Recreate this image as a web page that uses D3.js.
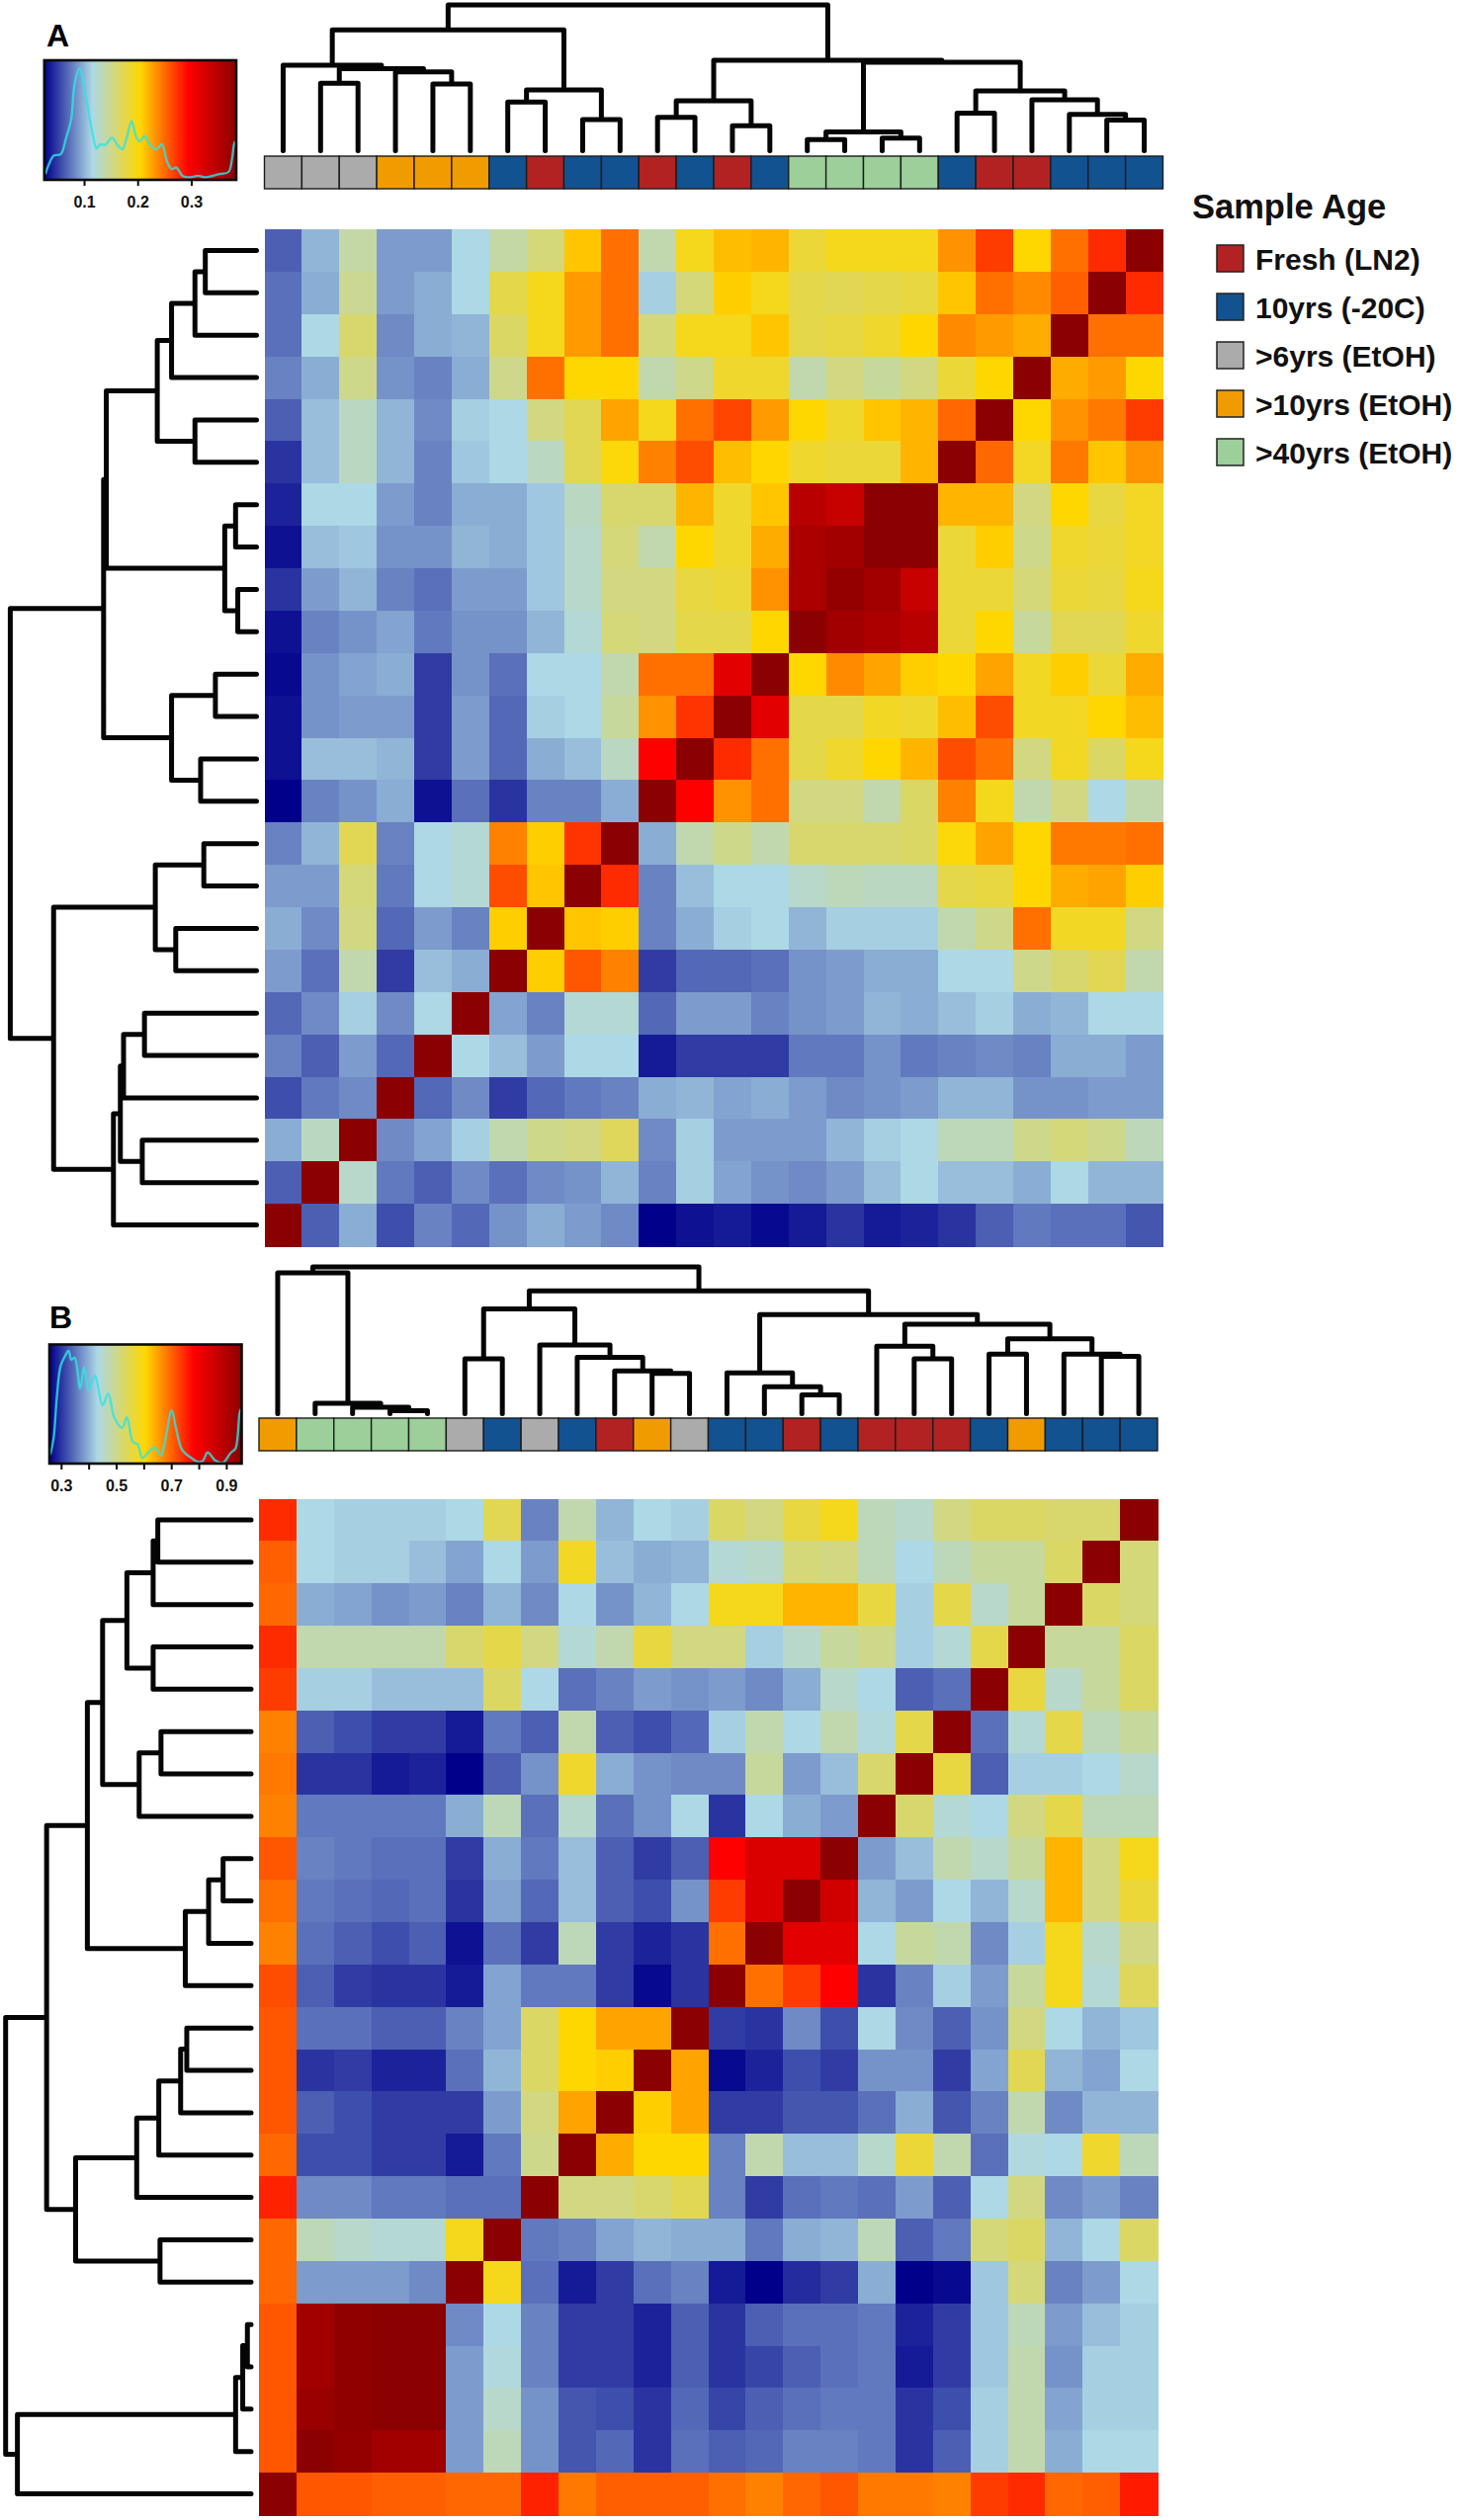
<!DOCTYPE html>
<html>
<head>
<meta charset="utf-8">
<script src="https://cdn.jsdelivr.net/npm/d3@7"></script>
<style>
  body { margin: 0; background: #fff; }
  text { font-family: "Liberation Sans", Arial, sans-serif; fill: #111; }
</style>
</head>
<body>
<div id="chart"></div>
<script>
// heatmap values are read as position on the colour key, 0 (dark blue) to 100 (dark red)
const rampColors = ["#00008B", "#ADD8E6", "#FFD700", "#FF0000", "#8B0000"];
const rampStops = [0, 25, 50, 75, 100];

const heatA = [
  [11,21,32,18,18,25,32,37,52,62,31,47,53,54,44,47,47,47,58,68,50,62,70,100],
  [13,20,34,18,20,25,42,47,57,62,24,37,51,47,42,41,42,43,52,62,59,64,100,70],
  [13,25,38,16,20,21,39,47,57,62,37,47,47,52,42,43,45,50,59,57,55,100,62,62],
  [15,20,35,17,15,20,35,62,50,50,31,35,45,45,31,36,33,36,44,50,100,55,57,50],
  [11,22,29,21,16,24,25,36,41,56,47,62,67,57,50,45,52,54,63,100,50,58,61,68],
  [6,22,29,21,15,23,25,29,41,49,60,66,53,50,45,44,44,54,100,63,46,61,52,58],
  [4,25,25,18,15,20,20,23,29,38,38,54,45,52,90,87,100,100,54,54,36,50,43,46],
  [2,22,23,17,17,21,20,23,28,37,31,50,45,55,93,95,100,100,44,51,35,45,44,46],
  [6,18,21,15,13,18,18,23,28,36,36,43,44,58,93,98,95,87,44,44,37,44,43,47],
  [2,15,17,19,14,17,17,21,27,37,36,42,42,50,100,95,93,90,44,50,33,41,41,45],
  [1,17,19,20,7,17,13,25,25,31,62,62,81,100,50,59,56,51,50,56,46,51,44,55],
  [2,17,18,18,7,18,12,24,25,33,58,69,100,81,42,42,46,45,53,66,46,46,50,53],
  [2,22,22,21,7,18,12,20,22,29,75,100,70,62,42,45,50,54,66,62,36,46,39,47],
  [0,15,17,20,2,13,6,15,15,20,100,75,58,62,36,36,31,39,60,47,31,36,25,31],
  [15,21,41,15,25,27,60,51,69,100,20,31,35,31,38,38,38,39,49,56,50,61,61,62],
  [18,18,37,14,25,27,66,52,100,70,15,22,25,25,28,30,29,29,42,43,50,55,56,51],
  [20,16,36,12,18,15,51,100,52,51,15,20,24,25,21,24,24,24,31,35,62,46,46,36],
  [18,13,31,7,22,20,100,51,65,60,7,12,12,13,17,18,20,20,25,25,35,38,41,31],
  [12,16,24,16,25,100,19,15,27,27,12,18,18,15,17,18,21,20,22,24,20,21,25,25],
  [15,11,18,12,100,25,22,18,25,25,3,7,7,7,14,14,17,14,15,16,15,20,20,18],
  [9,14,16,100,12,16,7,12,14,15,20,21,19,20,18,16,17,18,21,21,17,17,18,18],
  [20,29,100,16,19,24,31,35,36,40,16,24,18,18,18,21,24,25,30,30,35,37,35,30],
  [11,100,28,14,11,16,13,16,17,21,15,24,19,17,16,18,22,25,22,22,20,25,21,21],
  [100,11,20,9,15,12,17,20,18,16,0,2,3,1,3,6,3,4,6,11,14,13,13,10]
];

const heatB = [
  [70,25,24,24,24,25,41,15,31,21,25,24,39,36,43,47,30,28,36,39,39,38,38,100],
  [64,25,24,24,22,19,25,18,46,22,20,21,27,28,37,36,30,25,30,33,33,39,100,37],
  [63,20,19,17,18,15,21,16,25,17,21,25,47,47,54,54,43,24,42,28,33,100,39,37],
  [70,31,31,31,31,38,42,36,27,31,43,36,36,24,28,33,35,24,27,42,100,33,33,39],
  [68,24,24,22,22,22,39,25,13,15,18,17,18,16,20,28,25,11,13,100,43,28,33,39],
  [60,11,9,7,7,3,14,11,31,11,9,12,24,31,25,31,26,42,100,13,27,42,30,33],
  [61,6,6,3,4,0,11,17,45,20,17,16,16,33,18,22,38,100,43,11,24,24,25,28],
  [60,14,14,14,14,20,30,13,28,13,17,25,6,25,20,18,100,38,27,25,36,42,30,30],
  [65,15,14,13,13,7,20,14,22,11,7,11,75,83,83,100,18,22,31,28,33,54,36,47],
  [62,14,13,12,13,6,19,12,22,11,9,17,68,83,100,85,21,18,25,21,28,54,36,44],
  [60,13,11,9,11,2,13,7,30,7,4,6,62,100,81,81,25,33,31,16,24,47,28,36],
  [66,11,7,6,6,3,19,14,14,7,1,6,100,62,68,75,6,15,24,18,33,47,27,40],
  [65,13,13,11,11,15,19,39,50,56,56,100,7,6,16,9,25,16,11,17,36,25,21,23],
  [65,6,7,4,4,13,21,39,50,51,100,56,1,4,9,7,17,17,7,19,41,21,19,25],
  [65,11,9,7,7,7,18,36,56,100,51,56,7,7,10,10,13,20,10,15,31,16,21,21],
  [63,9,9,7,7,3,14,35,100,55,50,50,15,31,22,22,28,44,31,13,26,25,45,30],
  [71,16,16,14,14,13,13,100,36,36,38,41,15,7,13,14,13,18,11,25,36,16,18,15],
  [63,30,28,27,27,47,100,14,15,19,21,20,20,14,20,21,30,11,14,37,39,21,25,39],
  [63,18,18,18,16,100,47,13,3,7,13,15,3,0,5,7,20,0,1,23,37,15,18,25],
  [65,95,99,100,100,16,25,15,7,7,4,11,6,11,13,13,14,4,7,23,30,18,22,24],
  [65,95,99,100,100,18,26,15,7,7,4,11,6,8,11,13,14,3,7,23,31,17,24,24],
  [65,97,99,100,100,18,28,17,10,9,6,12,8,11,13,14,14,6,9,24,31,19,24,24],
  [65,100,98,95,95,18,30,17,10,12,6,13,11,12,15,15,14,6,11,24,31,20,25,25],
  [100,65,65,64,64,63,63,71,61,64,64,64,62,60,63,65,61,61,60,68,70,63,64,72]
];

// sample age class of each column, left to right
const annoA = [2,2,2,3,3,3,1,0,1,1,0,1,0,1,4,4,4,4,1,0,0,1,1,1];
const annoB = [3,4,4,4,4,2,1,2,1,0,3,2,1,1,0,1,0,0,0,1,3,1,1,1];
const legendLabels = ["Fresh (LN2)", "10yrs (-20C)", ">6yrs (EtOH)", ">10yrs (EtOH)", ">40yrs (EtOH)"];
const legendColors = ["#B22222", "#125291", "#ABABAB", "#F09C00", "#9CCF9A"];

// dendrograms, one merge per line: [child, child, height]
// negative child = leaf -(i+1), positive child = earlier merge (1-based), height is percent of full depth
const topTreeA = [
  [-2,-3,46.3],[-5,-6,45.7],[-4,2,54],[1,3,56.3],[-1,4,58.6],
  [-7,-8,33.4],[-9,-10,21.4],[6,7,41.7],[5,8,82.9],
  [-11,-12,22.9],[-13,-14,17.1],[10,11,34.3],
  [-15,-16,7.7],[-17,-18,8.6],[13,14,12.9],
  [-19,-20,25.7],[-23,-24,21.1],[-22,17,24.9],[-21,18,34.9],[16,19,41.1],
  [15,20,60.6],[12,21,62],[9,22,100]
];
const leftTreeA = [
  [-1,-2,20.8],[1,-3,25],[2,-4,34.5],[-5,-6,25],[3,4,40.3],
  [-7,-8,8.5],[-9,-10,7.6],[6,7,12.9],[5,8,61],
  [-11,-12,16.7],[-13,-14,22.7],[10,11,34.5],[9,12,62.1],
  [-15,-16,21.4],[-17,-18,32.8],[14,15,41.1],
  [-19,-20,45.5],[17,-21,54],[-22,-23,46.4],[18,19,55.3],[20,-24,58.1],
  [16,21,82.4],[13,22,100]
];
const topTreeB = [
  [-4,-5,2],[-3,1,4.3],[-2,2,7.1],[-1,3,96],
  [-6,-7,37.4],[-11,-12,27.5],[-10,6,29.2],[-9,7,38.3],[-8,8,46.8],[5,9,71.4],
  [-15,-16,12.8],[-14,11,18.4],[-13,12,27.8],
  [-18,-19,37.4],[-17,14,45.9],[-20,-21,40.5],
  [-23,-24,39.1],[-22,17,40.5],[16,18,51],[15,19,61],[13,20,67.5],
  [10,21,83.6],[4,22,100]
];
const leftTreeB = [
  [-1,-2,38],[1,-3,39.9],[-4,-5,39.9],[2,3,50.6],
  [-6,-7,36.7],[5,-8,45.6],[4,6,60.5],
  [-9,-10,11.4],[8,-11,17.3],[9,-12,26.8],[7,10,66.7],
  [-13,-14,26.2],[12,-15,28.7],[13,-16,37.6],[14,-17,46.6],
  [-18,-19,37.1],[15,16,71.5],[11,17,83.3],
  [-20,-21,1.5],[19,-22,3.4],[20,-23,6.3],[21,-24,95.2],[18,22,100]
];

// density trace inside the colour keys
const densityXA = [.0278,.0348,.0435,.0565,.067,.0757,.0826,.0913,.0983,.107,.1157,.1235,.1304,.139,.152,.1626,.1713,.18,.1887,.1974,.2043,.213,.2235,.2348,.2452,.2548,.2635,.2722,.2843,.2983,.313,.3261,.3522,.3696,.3765,.3809,.3843];
const densityYA = [.048,.134,.203,.214,.359,.497,.807,.934,.824,.6,.393,.262,.297,.29,.352,.29,.255,.359,.49,.359,.324,.366,.29,.255,.297,.152,.09,.103,.031,.021,.034,.021,.048,.066,.186,.317,.272];
const densityXB = [.261,.2729,.2847,.2983,.3153,.3271,.3373,.3492,.3695,.3831,.4,.422,.4508,.4712,.4932,.522,.539,.561,.578,.5949,.6169,.6407,.6627,.6797,.7017,.7186,.739,.7729,.7983,.8153,.8322,.861,.8881,.9169,.9339,.9508,.9559];
const densityYB = [.076,.215,.561,.82,.907,.948,.872,.889,.63,.81,.612,.74,.491,.588,.388,.301,.388,.18,.163,.048,.093,.135,.069,.215,.446,.284,.118,.048,.014,.024,.093,.024,.007,.093,.128,.45,.439];

const keyTicksA = [0.1, 0.2, 0.3];
const keyLabelsA = [0.1, 0.2, 0.3];
const keyTicksB = [0.3, 0.4, 0.5, 0.6, 0.7, 0.8, 0.9];
const keyLabelsB = [0.3, 0.5, 0.7, 0.9];

const svg = d3.select("#chart").append("svg")
  .attr("width", 1477)
  .attr("height", 2550)
  .style("display", "block");

const heatColor = d3.scaleLinear().domain(rampStops).range(rampColors);

// Draw one dendrogram from its merge table
function drawTree(merges, leafPos, depth, vertical) {
  const pts = merges.map(() => null);
  const childPt = c => c < 0 ? { pos: leafPos(-c - 1), h: 0 } : pts[c - 1];
  const p = d3.path();
  const move = (a, b) => vertical ? p.moveTo(a, b) : p.moveTo(b, a);
  const line = (a, b) => vertical ? p.lineTo(a, b) : p.lineTo(b, a);
  merges.forEach((m, i) => {
    const c1 = childPt(m[0]);
    const c2 = childPt(m[1]);
    const h = depth(m[2]);
    move(c1.pos, depth(c1.h));
    line(c1.pos, h);
    line(c2.pos, h);
    line(c2.pos, depth(c2.h));
    pts[i] = { pos: (c1.pos + c2.pos) / 2, h: m[2] };
  });
  svg.append("path")
    .attr("d", p.toString())
    .attr("fill", "none")
    .attr("stroke", "#050505")
    .attr("stroke-width", 5)
    .attr("stroke-linecap", "round")
    .attr("stroke-linejoin", "round");
}

function drawPanel(cfg) {
  const x = d3.scaleBand().domain(d3.range(24)).range([cfg.heatX0, cfg.heatX1]);
  const y = d3.scaleBand().domain(d3.range(24)).range([cfg.heatY0, cfg.heatY1]);

  // Heatmap cells
  cfg.heat.forEach((row, r) => {
    svg.append("g").selectAll("rect").data(row).join("rect")
      .attr("x", (d, c) => x(c))
      .attr("y", y(r))
      .attr("width", x.bandwidth() + 0.5)
      .attr("height", y.bandwidth() + 0.5)
      .attr("fill", d => heatColor(d))
      .attr("shape-rendering", "crispEdges");
  });

  // Sample age bar
  svg.append("g").selectAll("rect").data(cfg.anno).join("rect")
    .attr("x", (d, c) => x(c))
    .attr("y", cfg.annoY0)
    .attr("width", x.bandwidth())
    .attr("height", cfg.annoY1 - cfg.annoY0)
    .attr("fill", d => legendColors[d])
    .attr("stroke", "#1c1c1c")
    .attr("stroke-width", 1.4);

  // Dendrograms
  const center = s => i => s(i) + s.bandwidth() / 2;
  drawTree(cfg.topTree, center(x), d3.scaleLinear().domain([0, 100]).range(cfg.topRange), true);
  drawTree(cfg.leftTree, center(y), d3.scaleLinear().domain([0, 100]).range(cfg.leftRange), false);

  // Colour key
  const keyX = d3.scaleLinear().domain(cfg.keyDomain).range([cfg.keyX0, cfg.keyX1]);
  const keyY = d3.scaleLinear().domain([0, 1]).range([cfg.keyY1, cfg.keyY0]);
  const grad = svg.append("defs").append("linearGradient").attr("id", cfg.id + "-key");
  rampColors.forEach((c, i) => {
    grad.append("stop").attr("offset", (rampStops[i]) + "%").attr("stop-color", c);
  });
  svg.append("rect")
    .attr("x", cfg.keyX0)
    .attr("y", cfg.keyY0)
    .attr("width", cfg.keyX1 - cfg.keyX0)
    .attr("height", cfg.keyY1 - cfg.keyY0)
    .attr("fill", `url(#${cfg.id}-key)`);

  const density = d3.line()
    .x((d, i) => keyX(cfg.densityX[i]))
    .y(d => keyY(d))
    .curve(d3.curveCatmullRom);
  svg.append("path")
    .attr("d", density(cfg.densityY))
    .attr("fill", "none")
    .attr("stroke", "#30E3E3")
    .attr("stroke-opacity", 0.8)
    .attr("stroke-width", 2.4);

  svg.append("rect")
    .attr("x", cfg.keyX0)
    .attr("y", cfg.keyY0)
    .attr("width", cfg.keyX1 - cfg.keyX0)
    .attr("height", cfg.keyY1 - cfg.keyY0)
    .attr("fill", "none")
    .attr("stroke", "#0a0a0a")
    .attr("stroke-width", 2.6);

  const axis = svg.append("g")
    .attr("transform", `translate(0,${cfg.keyY1})`)
    .call(d3.axisBottom(keyX)
      .tickValues(cfg.keyTicks)
      .tickSize(6)
      .tickPadding(11)
      .tickFormat(d => cfg.keyLabels.includes(d) ? d3.format(".1f")(d) : ""));
  axis.select(".domain").remove();
  axis.selectAll("line").attr("stroke", "#0a0a0a").attr("stroke-width", 2);
  axis.selectAll("text")
    .attr("fill", "#111")
    .style("font-family", '"Liberation Sans", Arial, sans-serif')
    .style("font-size", "16px")
    .style("font-weight", "bold");

  // Panel letter
  svg.append("text")
    .attr("x", cfg.letterX)
    .attr("y", cfg.letterY)
    .style("font-size", "32px")
    .style("font-weight", "bold")
    .style("fill", "#000")
    .text(cfg.letter);
}

drawPanel({
  id: "a", letter: "A", letterX: 47, letterY: 47,
  heat: heatA, anno: annoA, topTree: topTreeA, leftTree: leftTreeA,
  heatX0: 267.5, heatX1: 1176.5, heatY0: 232, heatY1: 1261,
  annoY0: 158, annoY1: 191,
  topRange: [152.5, 5], leftRange: [259.5, 10.4],
  keyX0: 44.8, keyX1: 239, keyY0: 61, keyY1: 182,
  keyDomain: [0.0258, 0.384],
  densityX: densityXA, densityY: densityYA,
  keyTicks: keyTicksA, keyLabels: keyLabelsA
});

drawPanel({
  id: "b", letter: "B", letterX: 50, letterY: 1344,
  heat: heatB, anno: annoB, topTree: topTreeB, leftTree: leftTreeB,
  heatX0: 262, heatX1: 1171, heatY0: 1516.5, heatY1: 2545,
  annoY0: 1435, annoY1: 1468,
  topRange: [1430.5, 1282], leftRange: [254, 5.7],
  keyX0: 50, keyX1: 244.5, keyY0: 1360.5, keyY1: 1481,
  keyDomain: [0.2576, 0.956],
  densityX: densityXB, densityY: densityYB,
  keyTicks: keyTicksB, keyLabels: keyLabelsB
});

// Legend
const legendY = d3.scalePoint().domain(legendLabels).range([248, 444]);

svg.append("text")
  .attr("x", 1206)
  .attr("y", 221)
  .style("font-size", "34.5px")
  .style("font-weight", "bold")
  .text("Sample Age");

const legend = svg.append("g").selectAll("g").data(legendLabels).join("g")
  .attr("transform", d => `translate(1231,${legendY(d)})`);

legend.append("rect")
  .attr("width", 27)
  .attr("height", 27)
  .attr("fill", (d, i) => legendColors[i])
  .attr("stroke", "#222")
  .attr("stroke-width", 1.5);

legend.append("text")
  .attr("x", 39)
  .attr("y", 25)
  .style("font-size", "30px")
  .style("font-weight", "bold")
  .text(d => d);
</script>
</body>
</html>
